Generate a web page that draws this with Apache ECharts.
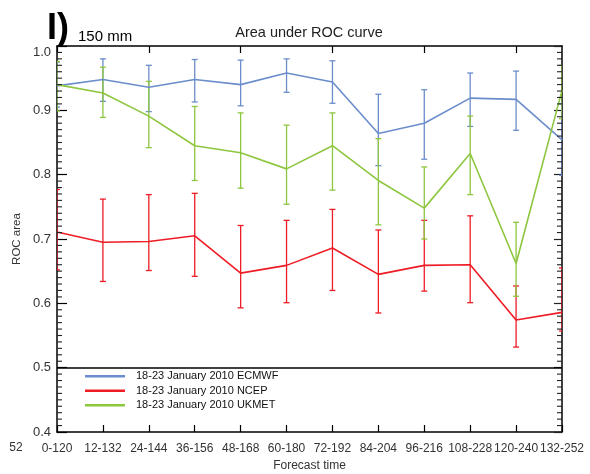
<!DOCTYPE html>
<html>
<head>
<meta charset="utf-8">
<script src="https://cdn.jsdelivr.net/npm/echarts@6/dist/echarts.min.js"></script>
<style>html,body{margin:0;padding:0;background:#fff;}#c{width:590px;height:474px;}</style>
</head>
<body>
<div id="c"></div>
<script>
const categories = ['0-120','12-132','24-144','36-156','48-168','60-180','72-192','84-204','96-216','108-228','120-240','132-252'];

const ecmwf     = [0.938, 0.948, 0.936, 0.948, 0.940, 0.958, 0.944, 0.864, 0.880, 0.919, 0.917, 0.854];
const ecmwfLow  = [0.905, 0.914, 0.898, 0.913, 0.907, 0.928, 0.911, 0.814, 0.824, 0.875, 0.869, 0.799];
const ecmwfHigh = [0.975, 0.980, 0.970, 0.979, 0.978, 0.980, 0.977, 0.925, 0.932, 0.958, 0.961, 0.910];

const ncep      = [0.711, 0.695, 0.696, 0.705, 0.647, 0.659, 0.686, 0.645, 0.659, 0.660, 0.574, 0.586];
const ncepLow   = [0.652, 0.634, 0.651, 0.642, 0.593, 0.601, 0.620, 0.585, 0.619, 0.601, 0.532, 0.557];
const ncepHigh  = [0.777, 0.762, 0.769, 0.771, 0.721, 0.729, 0.746, 0.714, 0.729, 0.736, 0.627, 0.655];

const ukmet     = [0.940, 0.927, 0.891, 0.845, 0.834, 0.809, 0.845, 0.791, 0.748, 0.833, 0.662, 0.931];
const ukmetLow  = [0.899, 0.889, 0.842, 0.791, 0.779, 0.754, 0.776, 0.722, 0.700, 0.769, 0.611, 0.887];
const ukmetHigh = [0.976, 0.967, 0.945, 0.906, 0.896, 0.877, 0.896, 0.856, 0.812, 0.891, 0.726, 0.970];

const seriesNames = ['18-23 January 2010 ECMWF', '18-23 January 2010 NCEP', '18-23 January 2010 UKMET'];
const yTicks = [0.4, 0.5, 0.6, 0.7, 0.8, 0.9, 1.0];
const refLine = 0.5;

// minor tick positions (axis decoration, every 0.01 between major ticks)
const minorTicks = [];
for (let k = 40; k <= 100; k++) { if (k % 10 !== 0) minorTicks.push(k / 100); }

const colors = ['#6b8dcc', '#ee1c24', '#8dc63f'];
const FONT = '"Liberation Sans", Arial, sans-serif';

function errData(lo, hi) { return lo.map((v, i) => [i, v, hi[i]]); }
function errSeries(lo, hi, color) {
  return {
    type: 'custom',
    xAxisIndex: 0, yAxisIndex: 0,
    clip: true,
    silent: true,
    encode: { x: 0, y: [1, 2] },
    data: errData(lo, hi),
    renderItem: function (params, api) {
      const a = api.coord([api.value(0), api.value(1)]);
      const b = api.coord([api.value(0), api.value(2)]);
      const w = 3;
      const st = { stroke: color, lineWidth: 1.3 };
      return {
        type: 'group',
        children: [
          { type: 'line', shape: { x1: a[0], y1: a[1], x2: b[0], y2: b[1] }, style: st },
          { type: 'line', shape: { x1: a[0] - w, y1: a[1], x2: a[0] + w, y2: a[1] }, style: st },
          { type: 'line', shape: { x1: b[0] - w, y1: b[1], x2: b[0] + w, y2: b[1] }, style: st }
        ]
      };
    },
    z: 3
  };
}
function lineSeries(name, data, color) {
  return {
    name: name, type: 'line', data: data, symbol: 'none',
    xAxisIndex: 0, yAxisIndex: 0,
    lineStyle: { color: color, width: 1.6 },
    itemStyle: { color: color },
    z: 4
  };
}
const minorTickSeries = {
  type: 'custom',
  xAxisIndex: 0, yAxisIndex: 0,
  clip: false, silent: true,
  encode: { y: 0 },
  data: minorTicks.map(v => [v]),
  renderItem: function (params, api) {
    const cs = params.coordSys;
    const y = api.coord([0, api.value(0)])[1];
    const st = { stroke: '#222', lineWidth: 1.1 };
    const L = cs.x, R = cs.x + cs.width;
    return {
      type: 'group',
      children: [
        { type: 'line', shape: { x1: L, y1: y, x2: L + 5, y2: y }, style: st },
        { type: 'line', shape: { x1: R - 5, y1: y, x2: R, y2: y }, style: st }
      ]
    };
  },
  z: 5
};

const chart = echarts.init(document.getElementById('c'), null, { renderer: 'canvas' });
const axisCommon = {
  axisLine: { show: true, lineStyle: { color: '#000', width: 1.5 } },
  splitLine: { show: false }
};
const yMin = yTicks[0], yMax = yTicks[yTicks.length - 1];
const option = {
  animation: false,
  backgroundColor: '#fff',
  grid: { left: 57, right: 28, top: 46, bottom: 42, containLabel: false, outerBoundsMode: 'none' },
  legend: {
    data: seriesNames.map(n => ({ name: n, icon: 'rect' })),
    orient: 'vertical',
    left: 80, top: 364,
    itemWidth: 40, itemHeight: 2.5, itemGap: 0,
    textStyle: { fontFamily: FONT, fontSize: 11, color: '#111', lineHeight: 14.5, padding: [0, 0, 0, 6] },
    selectedMode: false
  },
  xAxis: [
    Object.assign({
      type: 'category', data: categories, boundaryGap: false, position: 'bottom',
      axisTick: { show: true, inside: true, length: 7, alignWithLabel: true, lineStyle: { color: '#000', width: 1.2 } },
      axisLabel: { show: true, interval: 0, margin: 11, fontFamily: FONT, fontSize: 12, color: '#333' },
      name: 'Forecast time', nameLocation: 'middle', nameGap: 28,
      nameTextStyle: { fontFamily: FONT, fontSize: 12, color: '#333' }
    }, axisCommon),
    Object.assign({
      type: 'category', data: categories, boundaryGap: false, position: 'top',
      axisTick: { show: true, inside: true, length: 7, lineStyle: { color: '#000', width: 1.2 } },
      axisLabel: { show: false }
    }, axisCommon)
  ],
  yAxis: [
    Object.assign({
      type: 'value', min: yMin, max: yMax, interval: 0.1, position: 'left',
      axisTick: { show: true, inside: true, length: 10, lineStyle: { color: '#000', width: 1.2 } },
      axisLabel: {
        show: true, margin: 6, fontFamily: FONT, fontSize: 13, color: '#333',
        formatter: function (v) { return Math.abs(v - 1) < 1e-9 ? '{t|' + v.toFixed(1) + '}' : v.toFixed(1); },
        rich: { t: { fontFamily: FONT, fontSize: 13, color: '#333', padding: [12, 0, 0, 0] } }
      },
      name: 'ROC area', nameLocation: 'middle', nameGap: 34, nameRotate: 90, nameMoveOverlap: false,
      nameTextStyle: { fontFamily: FONT, fontSize: 11.5, color: '#333' }
    }, axisCommon),
    Object.assign({
      type: 'value', min: yMin, max: yMax, interval: 0.1, position: 'right',
      axisTick: { show: true, inside: true, length: 8, lineStyle: { color: '#222', width: 1.2 } },
      axisLabel: { show: false }
    }, axisCommon)
  ],
  graphic: [
    { type: 'text', left: 47, top: 11, style: { text: 'I)', font: 'bold 36px ' + FONT, fill: '#000' } },
    { type: 'text', left: 78, top: 29, style: { text: '150 mm', font: '15px ' + FONT, fill: '#000' } },
    { type: 'text', x: 309, y: 33, style: { text: 'Area under ROC curve', font: '14.5px ' + FONT, fill: '#222', align: 'center', verticalAlign: 'middle' } },
    { type: 'text', x: 309, y: -3, style: { text: 'Forecast time', font: '12px ' + FONT, fill: '#333', align: 'center', verticalAlign: 'middle' } },
    { type: 'text', x: 16, y: 448, style: { text: '52', font: '12px ' + FONT, fill: '#333', align: 'center', verticalAlign: 'middle' } }
  ],
  series: [
    Object.assign(lineSeries(seriesNames[0], ecmwf, colors[0]), {
      markLine: {
        silent: true, symbol: ['none', 'none'], label: { show: false },
        lineStyle: { color: '#000', width: 1.5, type: 'solid' },
        data: [{ yAxis: refLine }]
      }
    }),
    lineSeries(seriesNames[1], ncep, colors[1]),
    lineSeries(seriesNames[2], ukmet, colors[2]),
    errSeries(ecmwfLow, ecmwfHigh, colors[0]),
    errSeries(ncepLow, ncepHigh, colors[1]),
    errSeries(ukmetLow, ukmetHigh, colors[2]),
    minorTickSeries
  ]
};
chart.setOption(option);
</script>
</body>
</html>
